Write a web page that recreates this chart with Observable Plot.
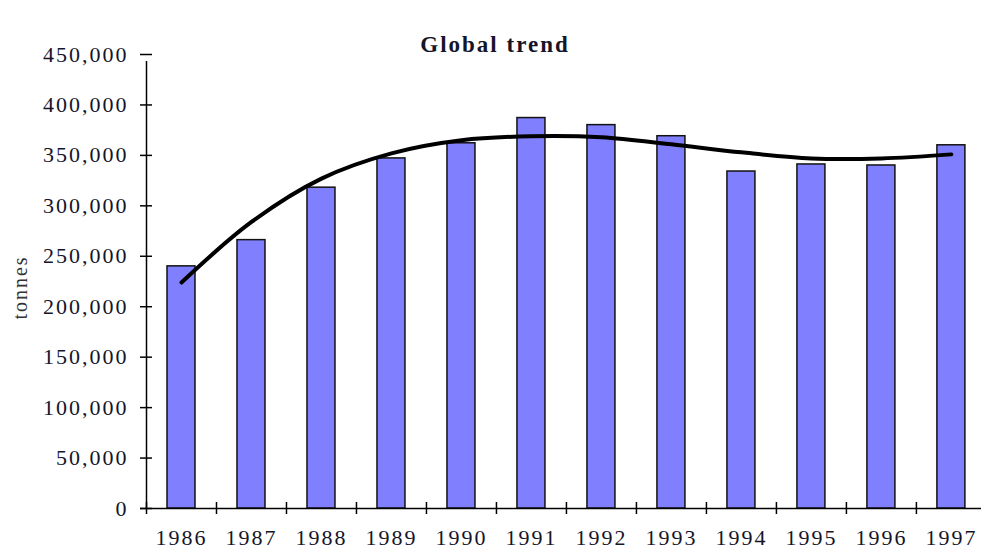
<!DOCTYPE html>
<html>
<head>
<meta charset="utf-8">
<script src="https://cdn.jsdelivr.net/npm/d3@7"></script>
<script src="https://cdn.jsdelivr.net/npm/@observablehq/plot@0.6"></script>
<style>
  html, body { margin: 0; padding: 0; background: #fff; }
</style>
</head>
<body>
<div id="chart"></div>
<script>
const years = [1986, 1987, 1988, 1989, 1990, 1991, 1992, 1993, 1994, 1995, 1996, 1997];
const tonnes = [240000, 266000, 318000, 347000, 362000, 387000, 380000, 369000, 334000, 341000, 340000, 360000];
const trendValues = [224000, 284000, 327000, 352000, 365000, 369000, 368000, 361000, 353000, 347000, 347000, 351000];
const yTicks = [0, 50000, 100000, 150000, 200000, 250000, 300000, 350000, 400000, 450000];
const titleText = "Global trend";
const yLabel = "tonnes";

const bars = years.map((year, i) => ({year, value: tonnes[i]}));
const trend = years.map((year, i) => ({year, value: trendValues[i]}));
const boundaries = years.map(y => y - 0.5).concat([years[years.length - 1] + 0.5]);

const textColor = "#15152a";

const chart = Plot.plot({
  width: 981,
  height: 550,
  marginLeft: 146,
  marginRight: 0,
  marginTop: 54,
  marginBottom: 42,
  style: {
    fontFamily: "'Liberation Serif', 'Times New Roman', serif",
    fontSize: "22px",
    letterSpacing: "2px",
    color: textColor,
    background: "#fff"
  },
  x: {type: "linear", domain: [1985.5, 1997.43]},
  y: {domain: [0, 450000]},
  marks: [
    Plot.rectY(bars, {
      x1: d => d.year - 0.5,
      x2: d => d.year + 0.5,
      y: "value",
      insetLeft: 21,
      insetRight: 21,
      fill: "#8080ff",
      stroke: "#111",
      strokeWidth: 1.5
    }),
    Plot.line(trend, {
      x: "year",
      y: "value",
      curve: "catmull-rom",
      stroke: "#000",
      strokeWidth: 4,
      strokeLinecap: "round"
    }),
    Plot.ruleX([1985.5], {y1: 0, y2: 450000, insetBottom: -7, stroke: "#000", strokeWidth: 1.5}),
    Plot.ruleY([0], {insetLeft: -6, stroke: "#000", strokeWidth: 1.5}),
    Plot.axisY({
      ticks: yTicks,
      tickFormat: d3.format(","),
      tickSize: 12,
      tickPadding: 12,
      dx: 6,
      stroke: "#000",
      strokeWidth: 1.5,
      fill: textColor,
      label: null
    }),
    Plot.axisX({
      ticks: boundaries,
      tickFormat: () => "",
      tickSize: 12,
      dy: -6,
      stroke: "#000",
      strokeWidth: 1.5,
      label: null
    }),
    Plot.axisX({
      ticks: years,
      tickFormat: d => String(d),
      tickSize: 0,
      tickPadding: 21,
      fill: textColor,
      label: null
    }),
    Plot.text([titleText], {
      frameAnchor: "top",
      dx: -69,
      dy: -3,
      fontWeight: "bold",
      fontSize: 23,
      letterSpacing: "1.5px",
      lineAnchor: "bottom",
      fill: textColor
    }),
    Plot.text([yLabel], {
      frameAnchor: "left",
      textAnchor: "middle",
      dx: -126,
      dy: 6,
      rotate: -90,
      fontSize: 20,
      letterSpacing: "1px",
      fill: "#333"
    })
  ]
});

document.getElementById("chart").appendChild(chart);
</script>
</body>
</html>
